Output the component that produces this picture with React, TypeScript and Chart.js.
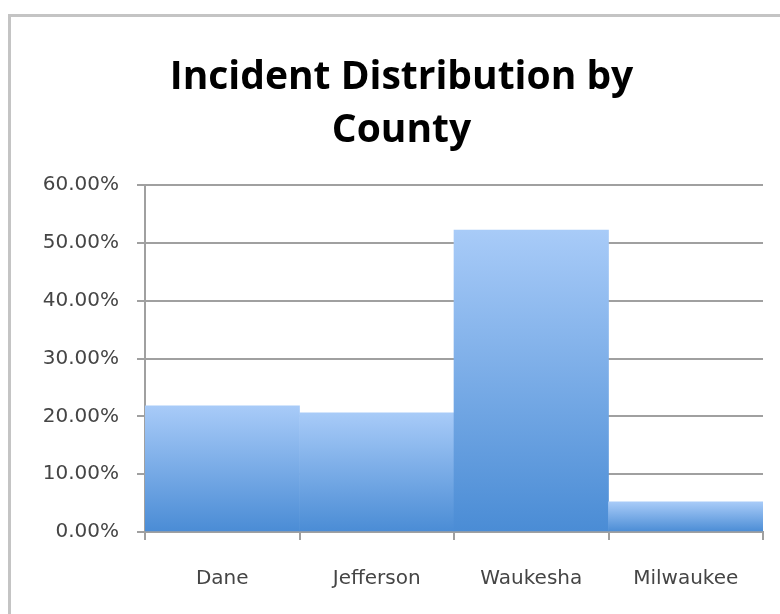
import React, { useEffect, useRef } from "react";
import { Chart, registerables } from "chart.js";

Chart.register(...registerables);

const categories = ["Dane", "Jefferson", "Waukesha", "Milwaukee"];
const incidentShare = [21.8, 20.6, 52.2, 5.2];
const titleLines = ["Incident Distribution by", "County"];
const yMin = 0;
const yMax = 60;
const yStep = 10;

const framePlugin = {
  id: "frame",
  beforeDraw(chart: any) {
    const ctx = chart.ctx;
    ctx.save();
    ctx.fillStyle = "#ffffff";
    ctx.fillRect(0, 0, chart.width, chart.height);
    ctx.strokeStyle = "#c4c4c4";
    ctx.lineWidth = 3;
    ctx.beginPath();
    ctx.moveTo(9.5, chart.height);
    ctx.lineTo(9.5, 15.5);
    ctx.lineTo(chart.width, 15.5);
    ctx.stroke();
    ctx.restore();
  },
};

export default function App() {
  const ref = useRef<HTMLCanvasElement | null>(null);

  useEffect(() => {
    if (!ref.current) return;
    const chart = new Chart(ref.current, {
      type: "bar",
      data: {
        labels: categories,
        datasets: [
          {
            data: incidentShare,
            barPercentage: 1,
            categoryPercentage: 1,
            borderWidth: 0,
            backgroundColor: (c: any) => {
              const ch = c.chart;
              const y = ch.scales && ch.scales.y;
              if (!y || !ch.chartArea || c.raw === undefined) return "#7aaae6";
              const top = y.getPixelForValue(c.raw);
              const bottom = y.getPixelForValue(0);
              const g = ch.ctx.createLinearGradient(0, top, 0, bottom);
              g.addColorStop(0, "#a8cbf8");
              g.addColorStop(1, "#4a8cd5");
              return g;
            },
          },
        ],
      },
      options: {
        animation: false,
        responsive: false,
        maintainAspectRatio: false,
        layout: { padding: { left: 40, right: 17, top: 0, bottom: 0 } },
        plugins: {
          legend: { display: false },
          tooltip: { enabled: false },
          title: {
            display: true,
            text: titleLines,
            color: "#000000",
            font: { family: "Open Sans", size: 39, weight: "bold", lineHeight: 53 / 39 },
            padding: { top: 51, bottom: 28 },
          },
        },
        scales: {
          x: {
            afterFit: (s: any) => {
              s.height = 82;
            },
            grid: {
              offset: true,
              drawOnChartArea: false,
              drawTicks: true,
              tickLength: 8,
              color: "#a0a0a0",
              lineWidth: 2,
            },
            border: { display: true, color: "#a0a0a0", width: 2 },
            ticks: {
              color: "#454545",
              padding: 27,
              font: { family: "DejaVu Sans", size: 20 },
            },
          },
          y: {
            min: yMin,
            max: yMax,
            afterFit: (s: any) => {
              s.width = 105;
            },
            grid: {
              color: "#a0a0a0",
              lineWidth: 2,
              drawTicks: true,
              tickLength: 8,
            },
            border: { display: true, color: "#a0a0a0", width: 2 },
            ticks: {
              stepSize: yStep,
              color: "#454545",
              padding: 18,
              font: { family: "DejaVu Sans", size: 20 },
              callback: (v: any) => Number(v).toFixed(2) + "%",
            },
          },
        },
      },
      plugins: [framePlugin],
    });
    return () => chart.destroy();
  }, []);

  return (
    <div style={{ position: "fixed", left: 0, top: 0, width: 780, height: 614 }}>
      <canvas ref={ref} width={780} height={614} style={{ width: 780, height: 614, display: "block" }} />
    </div>
  );
}
